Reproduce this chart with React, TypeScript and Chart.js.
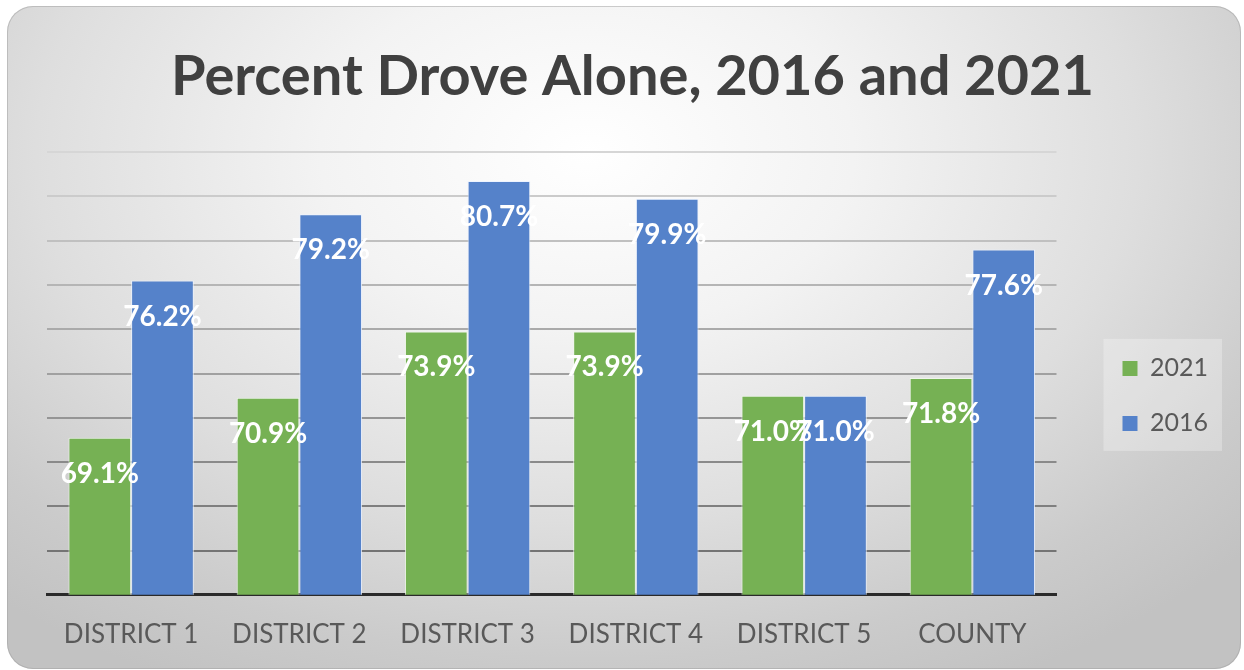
import React, { useEffect, useRef } from "react";
import { Chart, registerables } from "chart.js";

Chart.register(...registerables);

const categories = ["DISTRICT 1", "DISTRICT 2", "DISTRICT 3", "DISTRICT 4", "DISTRICT 5", "COUNTY"];
const values2021 = [69.1, 70.9, 73.9, 73.9, 71.0, 71.8];
const values2016 = [76.2, 79.2, 80.7, 79.9, 71.0, 77.6];
const seriesNames = ["2021", "2016"];
const titleText = "Percent Drove Alone, 2016 and 2021";
const yMin = 62;
const yMax = 82;
const yStep = 2;

const GREEN = "#76B154";
const BLUE = "#5582CA";
const FONT = "Lato, 'Open Sans', sans-serif";

function lerpGray(t: number) {
  // t=0 bottom (dark), t=1 top (light)
  const a = 105, b = 214;
  const v = Math.round(a + (b - a) * t);
  return `rgb(${v},${v},${v})`;
}

const valueLabelPlugin = {
  id: "valueLabels",
  afterDatasetsDraw(chart: any) {
    const ctx = chart.ctx;
    ctx.save();
    ctx.font = `bold 28px ${FONT}`;
    ctx.fillStyle = "#ffffff";
    ctx.textAlign = "center";
    ctx.textBaseline = "middle";
    chart.data.datasets.forEach((ds: any, i: number) => {
      const meta = chart.getDatasetMeta(i);
      meta.data.forEach((el: any, j: number) => {
        const v = ds.data[j] as number;
        ctx.fillText(v.toFixed(1) + "%", el.x, el.y + 36);
      });
    });
    ctx.restore();
  },
};

const legendBoxPlugin = {
  id: "legendBox",
  beforeDraw(chart: any) {
    const lg = chart.legend;
    if (!lg || !lg.legendHitBoxes || !lg.legendHitBoxes.length) return;
    const boxes = lg.legendHitBoxes;
    const first = boxes[0];
    const last = boxes[boxes.length - 1];
    let maxR = 0;
    boxes.forEach((b: any) => (maxR = Math.max(maxR, b.left + b.width)));
    const ctx = chart.ctx;
    ctx.save();
    ctx.fillStyle = "rgba(255,255,255,0.28)";
    ctx.fillRect(
      first.left - 19,
      first.top - 17,
      maxR - first.left + 33,
      last.top + last.height - first.top + 32
    );
    ctx.restore();
  },
};

export default function App() {
  const canvasRef = useRef<HTMLCanvasElement | null>(null);

  useEffect(() => {
    if (!canvasRef.current) return;
    const chart = new Chart(canvasRef.current, {
      type: "bar",
      data: {
        labels: categories,
        datasets: [
          {
            label: seriesNames[0],
            data: values2021,
            backgroundColor: GREEN,
            borderColor: "rgba(240,248,235,0.85)",
            borderWidth: 1,
            categoryPercentage: 0.745,
            barPercentage: 1,
          },
          {
            label: seriesNames[1],
            data: values2016,
            backgroundColor: BLUE,
            borderColor: "rgba(235,242,255,0.85)",
            borderWidth: 1,
            categoryPercentage: 0.745,
            barPercentage: 1,
          },
        ],
      },
      plugins: [legendBoxPlugin, valueLabelPlugin],
      options: {
        animation: false,
        responsive: false,
        devicePixelRatio: 1,
        layout: { padding: { left: 40, right: 23, top: 0, bottom: -5 } },
        plugins: {
          title: {
            display: true,
            text: titleText,
            color: "#404040",
            font: { family: FONT, size: 56, weight: "bold" },
            padding: { top: 37, bottom: 42 },
          },
          legend: {
            display: true,
            position: "right",
            align: "center",
            fullSize: false,
            title: { display: true, text: " ", font: { size: 4 }, padding: { top: 20, bottom: 20 } },
            labels: {
              boxWidth: 15,
              boxHeight: 15,
              padding: 30,
              color: "#595959",
              font: { family: FONT, size: 25 },
              generateLabels(chart: any) {
                const items = Chart.defaults.plugins.legend.labels.generateLabels(chart);
                return items.map((it: any) => ({ ...it, lineWidth: 0, strokeStyle: "rgba(0,0,0,0)" }));
              },
            },
          },
          tooltip: { enabled: false },
        },
        scales: {
          x: {
            grid: { display: false, drawTicks: false },
            border: { display: true, color: "#2a2a2a", width: 3 },
            ticks: {
              color: "#595959",
              font: { family: FONT, size: 26 },
              padding: 24,
              maxRotation: 0,
            },
          },
          y: {
            min: yMin,
            max: yMax,
            ticks: { display: false, stepSize: yStep },
            border: { display: false },
            grid: {
              drawTicks: false,
              lineWidth: 2,
              color: (c: any) => {
                const n = (yMax - yMin) / yStep;
                return lerpGray((c.index || 0) / n);
              },
            },
          },
          yGap: {
            type: "linear",
            position: "right",
            display: true,
            min: yMin,
            max: yMax,
            ticks: { display: false },
            grid: { display: false, drawTicks: false },
            border: { display: false },
            afterFit(scale: any) {
              scale.width = 36;
            },
          },
        },
      },
    });
    return () => chart.destroy();
  }, []);

  return (
    <div
      style={{
        position: "absolute",
        left: 7,
        top: 6,
        width: 1234,
        height: 663,
        borderRadius: 26,
        overflow: "hidden",
        boxShadow: "inset 0 0 0 1px rgba(160,160,160,0.5)",
        background:
          "radial-gradient(ellipse 72% 90% at 47% 22%, #ffffff 0%, #f3f3f3 30%, #dedede 62%, #cbcbcb 85%, #c2c2c2 100%)",
      }}
    >
      <canvas ref={canvasRef} width={1234} height={663} style={{ display: "block" }} />
    </div>
  );
}
